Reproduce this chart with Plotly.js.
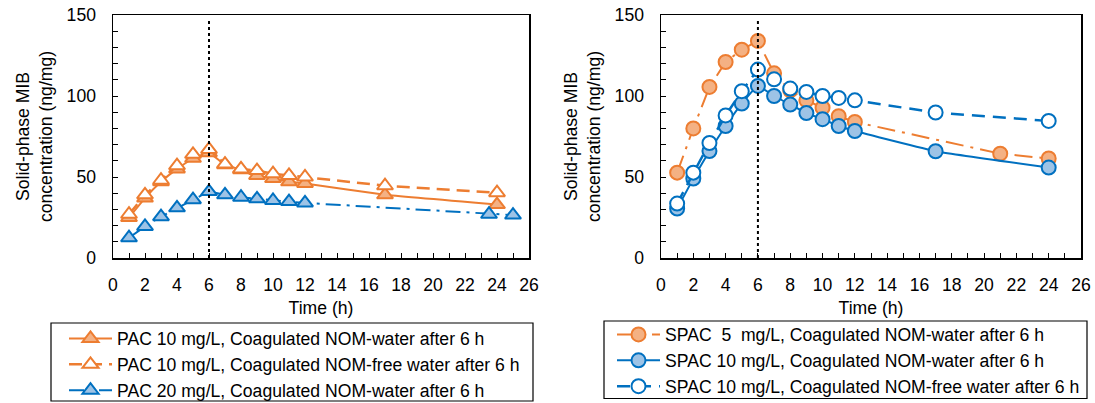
<!DOCTYPE html>
<html>
<head>
<meta charset="utf-8">
<script src="https://cdn.plot.ly/plotly-3.0.1.min.js"></script>
<style>html,body{margin:0;padding:0;background:#fff;}#chart{width:1095px;height:403px;}</style>
</head>
<body>
<div id="chart"></div>
<script>
// Left panel (PAC)
const pacTime = [1,2,3,4,5,6,7,8,9,10,11,12,17,24];
const pac10NomWater = [25,37,47,55,61.5,65,57.5,54.5,51,49,47,46,39,33];
const pac10NomFree = [27,39,48,57,64,67,58,55,54,52,51,50,44.6,40.3];
const pac20Time = [1,2,3,4,5,6,7,8,9,10,11,12,23.5,25];
const pac20NomWater = [12.5,19.5,25.5,31,36,41,39,37.5,36.5,35.5,34.8,34,27,26.5];

// Right panel (SPAC)
const spac5Time = [1,2,3,4,5,6,7,8,9,10,11,12,21,24];
const spac5NomWater = [52.7,80,105.6,121,128.6,134,114,103.5,97.3,92.8,87.5,84,64.4,61.4];
const spacTime = [1,2,3,4,5,6,7,8,9,10,11,12,17,24];
const spac10NomWater = [30.5,49,66,81.5,95.3,106.2,100,94.7,89.5,85.7,81.5,78.4,65.9,55.8];
const spac10NomFree = [33.6,52.7,71,88,103,116.3,110.3,104.6,102.5,100,98.8,97.3,89.8,84.6];

const orange = '#ED7D31', orangeFill = '#F4B183';
const blue = '#0070C0', blueFill = '#9DC3E6';
const font = 'Liberation Sans, Arial, sans-serif';
const fs = 17.6;
const W = 1095, H = 403;

const traces = [
  {x: pacTime, y: pac10NomWater, xaxis:'x', yaxis:'y', mode:'lines+markers', legend:'legend', legendgroup:'a',
   name:'PAC 10 mg/L, Coagulated NOM-water after 6 h',
   line:{color:orange, width:2, shape:'spline', smoothing:0.3},
   marker:{symbol:'triangle-up', size:14, color:orangeFill, line:{color:orange, width:2}}},
  {x: pacTime, y: pac10NomFree, xaxis:'x', yaxis:'y', mode:'lines+markers', legend:'legend', legendgroup:'b',
   name:'PAC 10 mg/L, Coagulated NOM-free water after 6 h',
   line:{color:orange, width:2.5, dash:'13px,7px'},
   marker:{symbol:'triangle-up', size:14, color:'#ffffff', line:{color:orange, width:2}}},
  {x: pac20Time, y: pac20NomWater, xaxis:'x', yaxis:'y', mode:'lines+markers', legend:'legend', legendgroup:'c',
   name:'PAC 20 mg/L, Coagulated NOM-water after 6 h',
   line:{color:blue, width:2, dash:'15px,6px,3px,6px'},
   marker:{symbol:'triangle-up', size:14, color:blueFill, line:{color:blue, width:2}}},
  {x: spac5Time, y: spac5NomWater, xaxis:'x2', yaxis:'y2', mode:'lines+markers', legend:'legend2', legendgroup:'d',
   name:'SPAC  5  mg/L, Coagulated NOM-water after 6 h',
   line:{color:orange, width:2, dash:'18px,7px,3px,7px'},
   marker:{symbol:'circle', size:14, color:orangeFill, line:{color:orange, width:2}}},
  {x: spacTime, y: spac10NomWater, xaxis:'x2', yaxis:'y2', mode:'lines+markers', legend:'legend2', legendgroup:'e',
   name:'SPAC 10 mg/L, Coagulated NOM-water after 6 h',
   line:{color:blue, width:2, shape:'spline', smoothing:0.3},
   marker:{symbol:'circle', size:14, color:blueFill, line:{color:blue, width:2}}},
  {x: spacTime, y: spac10NomFree, xaxis:'x2', yaxis:'y2', mode:'lines+markers', legend:'legend2', legendgroup:'f',
   name:'SPAC 10 mg/L, Coagulated NOM-free water after 6 h',
   line:{color:blue, width:2.5, dash:'13px,8px'},
   marker:{symbol:'circle', size:14, color:'#ffffff', line:{color:blue, width:2}}}
];

function xax(dom){
  return {domain:dom, range:[0,26], dtick:2, tick0:0, showgrid:false, zeroline:false,
    showline:true, mirror:true, linecolor:'#000', linewidth:1.5,
    ticks:'inside', ticklen:5, tickcolor:'#000', tickwidth:1, ticklabelstandoff:10,
    minor:{dtick:1, ticks:'inside', ticklen:5, tickcolor:'#000'},
    tickfont:{family:font, size:fs, color:'#000'},
    title:{text:'Time (h)', font:{family:font, size:fs, color:'#000'}, standoff:8}};
}
function yax(anchor){
  return {domain:[1-258/H, 1-15/H], range:[0,150], dtick:50, showgrid:false, zeroline:false, anchor:anchor,
    showline:true, mirror:true, linecolor:'#000', linewidth:1.5,
    ticks:'inside', ticklen:5, tickcolor:'#000', tickwidth:1, ticklabelstandoff:12,
    minor:{dtick:10, ticks:'inside', ticklen:5, tickcolor:'#000'},
    tickfont:{family:font, size:fs, color:'#000'},
    title:{text:'Solid-phase MIB<br>concentration (ng/mg)', font:{family:font, size:fs, color:'#000'}, standoff:9}};
}

const legendBase = {xanchor:'left', yanchor:'top', bgcolor:'rgba(0,0,0,0)', borderwidth:0,
  font:{family:font, size:fs, color:'#000'}, traceorder:'grouped', tracegroupgap:0, itemwidth:43};

const layout = {
  width:W, height:H, margin:{l:0, r:0, t:0, b:0, autoexpand:false},
  paper_bgcolor:'#fff', plot_bgcolor:'#fff', showlegend:true,
  xaxis: Object.assign(xax([113/W, 529/W]), {anchor:'y'}),
  yaxis: yax('x'),
  xaxis2: Object.assign(xax([661/W, 1081/W]), {anchor:'y2'}),
  yaxis2: yax('x2'),
  legend: Object.assign({}, legendBase, {x:64/W, y:1-320.5/H}),
  legend2: Object.assign({}, legendBase, {x:612/W, y:1-316.5/H}),
  shapes: [
    {type:'line', xref:'x', yref:'y', x0:6, x1:6, y0:0, y1:147, line:{color:'#000', width:2, dash:'dot'}},
    {type:'line', xref:'x2', yref:'y2', x0:6, x1:6, y0:0, y1:147, line:{color:'#000', width:2, dash:'dot'}},
    {type:'rect', xref:'paper', yref:'paper', x0:51/W, x1:533/W, y0:1-401/H, y1:1-323/H, line:{color:'#000', width:1.2}},
    {type:'rect', xref:'paper', yref:'paper', x0:604/W, x1:1087/W, y0:1-398.5/H, y1:1-321/H, line:{color:'#000', width:1.2}}
  ]
};

Plotly.newPlot('chart', traces, layout, {displayModeBar:false, staticPlot:true});
</script>
</body>
</html>
